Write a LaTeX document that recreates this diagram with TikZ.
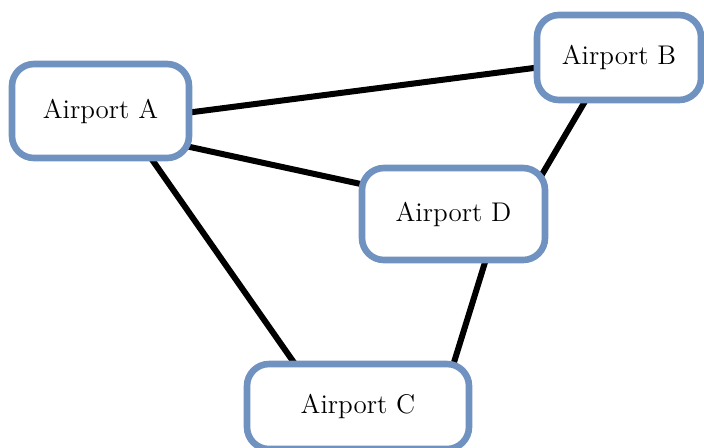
\documentclass[tikz,border=0pt]{standalone}
\usepackage{tikz}
\usetikzlibrary{backgrounds}
\definecolor{airportblue}{RGB}{112,146,192}
\tikzset{
  airport/.style={draw=airportblue, line width=3.3pt, rounded corners=11pt, fill=white,
    inner sep=0pt, outer sep=0pt, font=\fontsize{13.5}{15}\selectfont},
  route/.style={line width=3pt, black, shorten <=-5pt, shorten >=-5pt}
}

\begin{document}
\begin{tikzpicture}[x=0.5pt, y=-0.5pt]
			%%%%% START %%%%%
			
			\useasboundingbox (0, 0) rectangle (704, 447);
			
			\node[airport, minimum width=88.5pt, minimum height=47pt] (a) at (100.5, 111) {Airport A};
			\node[airport, minimum width=82pt, minimum height=42.5pt] (b) at (619, 57.5) {Airport B};
			\node[airport, minimum width=91.5pt, minimum height=46pt] (d) at (453.5, 214) {Airport D};
			\node[airport, minimum width=111pt, minimum height=42.5pt] (c) at (358, 406.5) {Airport C};
			
			\begin{pgfonlayer}{background}
			\draw[route] (a.-1) -- (b.-173.4);
			\draw[route] (a.-22.9) -- (d.162.4);
			\draw[route] (a.-43.5) -- (c.146.8);
			\draw[route] (b.-128.7) -- (d.26.7);
			\draw[route] (d.-55.6) -- (c.24.3);
			\end{pgfonlayer}
			
			%%%%% END %%%%%
\end{tikzpicture}
\end{document}
